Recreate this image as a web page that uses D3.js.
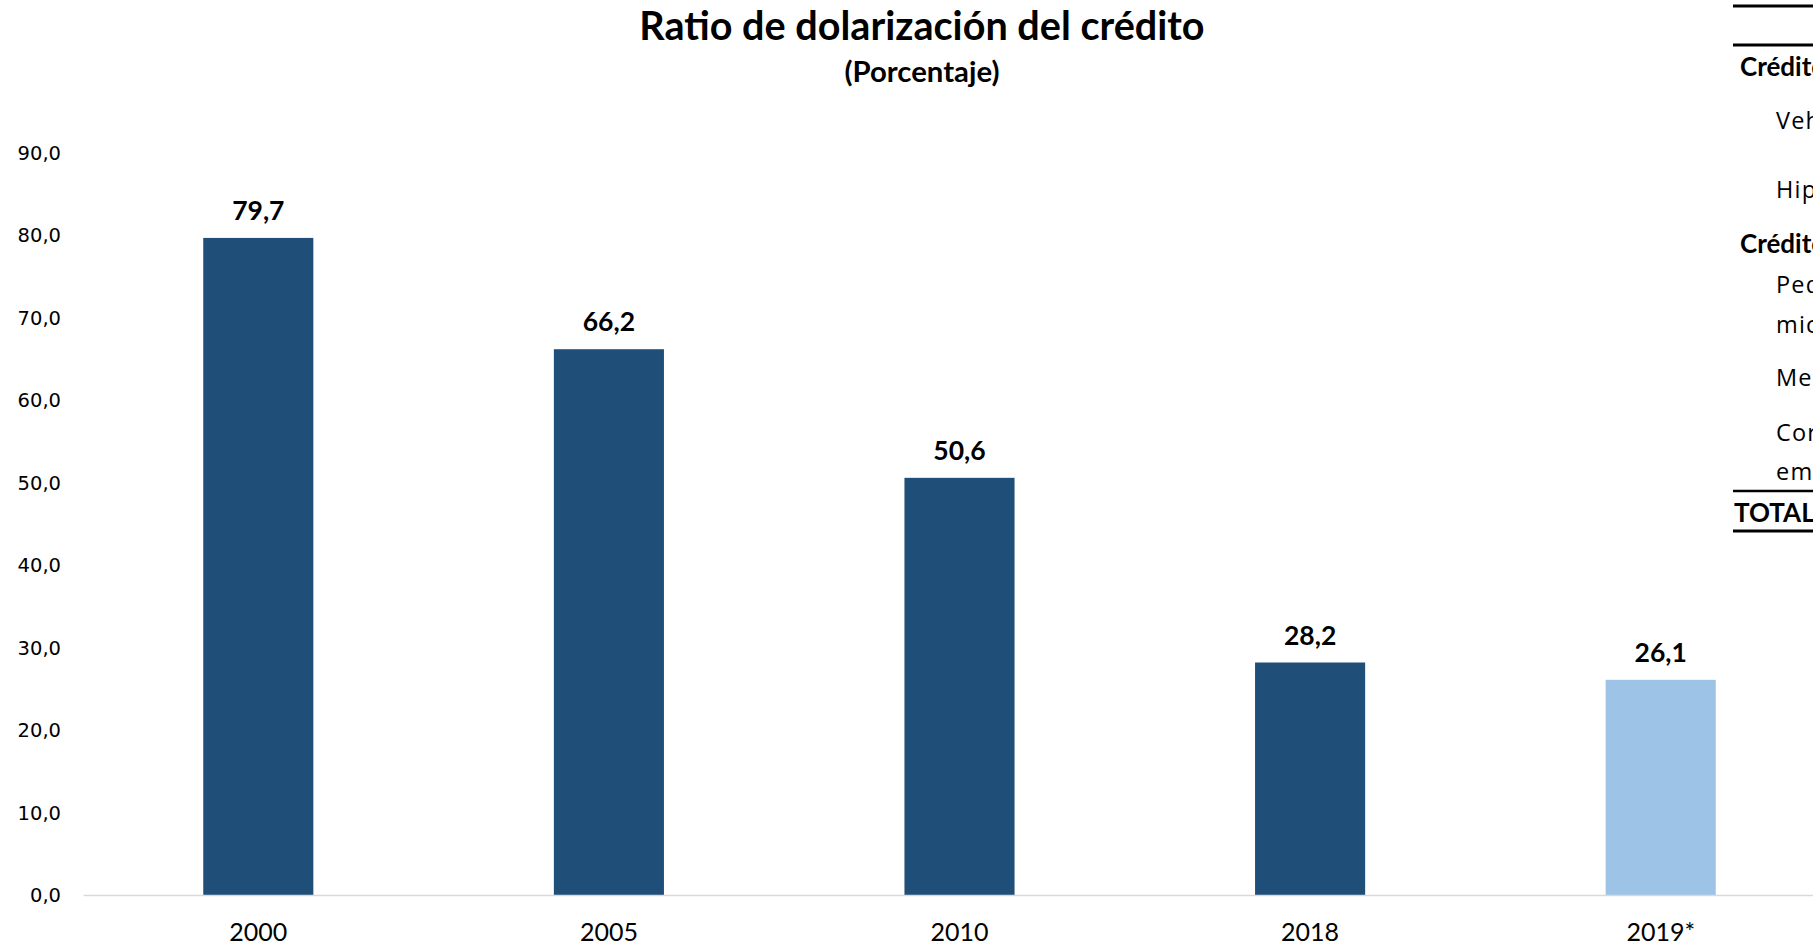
<!DOCTYPE html>
<html>
<head>
<meta charset="utf-8">
<script src="https://cdn.jsdelivr.net/npm/d3@7"></script>
<style>
  html, body { margin: 0; padding: 0; background: #fff; overflow: hidden; }
  svg { display: block; }
</style>
</head>
<body>
<script>
// ---- data ----
const categories = ["2000", "2005", "2010", "2018", "2019*"];
const ratioValues = [79.7, 66.2, 50.6, 28.2, 26.1];
const projected = [false, false, false, false, true];
const yTicks = [0, 10, 20, 30, 40, 50, 60, 70, 80, 90];
const titleText = "Ratio de dolarización del crédito";
const subtitleText = "(Porcentaje)";
// side table (cut off by the window in the original)
const tableRows = [
  { text: "Créditos a hogares", bold: true, indent: false, y: 67 },
  { text: "Vehiculares", bold: false, indent: true, y: 121 },
  { text: "Hipotecarios", bold: false, indent: true, y: 190 },
  { text: "Créditos a empresas", bold: true, indent: false, y: 244 },
  { text: "Pequeña y", bold: false, indent: true, y: 285 },
  { text: "microempresa", bold: false, indent: true, y: 325 },
  { text: "Mediana empresa", bold: false, indent: true, y: 378 },
  { text: "Corporativo y grandes", bold: false, indent: true, y: 433 },
  { text: "empresas", bold: false, indent: true, y: 472 },
  { text: "TOTAL", bold: true, indent: false, y: 513 }
];
const tableLines = [{ y: 6, w: 3 }, { y: 45, w: 3 }, { y: 491, w: 2.5 }, { y: 531, w: 3 }];

// ---- layout ----
const W = 1813, H = 947;
const svg = d3.select("body").append("svg").attr("width", W).attr("height", H);

const calibri = "Lato, 'Open Sans', sans-serif";

const x = d3.scaleBand().domain(categories).range([83, 1836]).paddingInner(0.686).paddingOuter(0.343);
const y = d3.scaleLinear().domain([0, 90]).range([895, 153]);

// title
svg.append("text").attr("x", 922).attr("y", 40).attr("text-anchor", "middle")
  .attr("font-family", calibri).attr("font-weight", 700).attr("font-size", 39.6)
  .attr("fill", "#000").text(titleText);
svg.append("text").attr("x", 922).attr("y", 82).attr("text-anchor", "middle")
  .attr("font-family", calibri).attr("font-weight", 700).attr("font-size", 29.3)
  .attr("fill", "#000").text(subtitleText);

// y axis labels
const fmt = v => d3.format(".1f")(v).replace(".", ",");
svg.append("g").selectAll("text").data(yTicks).join("text")
  .attr("x", 61).attr("y", d => y(d)).attr("dy", "0.36em")
  .attr("text-anchor", "end").attr("font-family", "'DejaVu Sans', sans-serif")
  .attr("font-size", 19.5).attr("fill", "#000").text(fmt);

// bars
svg.append("g").selectAll("rect").data(categories).join("rect")
  .attr("x", d => x(d)).attr("width", x.bandwidth())
  .attr("y", (d, i) => y(ratioValues[i]))
  .attr("height", (d, i) => y(0) - y(ratioValues[i]))
  .attr("fill", (d, i) => projected[i] ? "#9DC3E6" : "#1F4E79");

// baseline axis
const xAxis = d3.axisBottom(x).tickSize(0).tickPadding(28);
const gx = svg.append("g").attr("transform", `translate(0,${y(0)})`).call(xAxis);
gx.select(".domain").attr("stroke", "#D9D9D9").attr("stroke-width", 1.5);
gx.selectAll("text").attr("font-family", calibri).attr("font-size", 25).attr("fill", "#000");

// value labels
svg.append("g").selectAll("text").data(categories).join("text")
  .attr("x", d => x(d) + x.bandwidth() / 2)
  .attr("y", (d, i) => y(ratioValues[i]) - 18)
  .attr("text-anchor", "middle").attr("font-family", calibri).attr("font-weight", 700)
  .attr("font-size", 26.5).attr("fill", "#000")
  .text((d, i) => fmt(ratioValues[i]));

// side table
const tg = svg.append("g");
tg.selectAll("line").data(tableLines).join("line")
  .attr("x1", 1733).attr("x2", W + 10).attr("y1", d => d.y).attr("y2", d => d.y)
  .attr("stroke", "#000").attr("stroke-width", d => d.w);
tg.selectAll("text").data(tableRows).join("text")
  .attr("x", d => d.indent ? 1776 : (d.text === "TOTAL" ? 1734 : 1740))
  .attr("y", d => d.y).attr("dy", "0.36em")
  .attr("font-family", d => d.bold ? calibri : "'Open Sans', sans-serif")
  .attr("font-weight", d => d.bold ? 700 : 400)
  .attr("font-size", d => d.bold ? 26 : 23.5)
  .attr("letter-spacing", d => d.bold ? 0 : 1.2)
  .attr("fill", "#000").text(d => d.text);
</script>
</body>
</html>
